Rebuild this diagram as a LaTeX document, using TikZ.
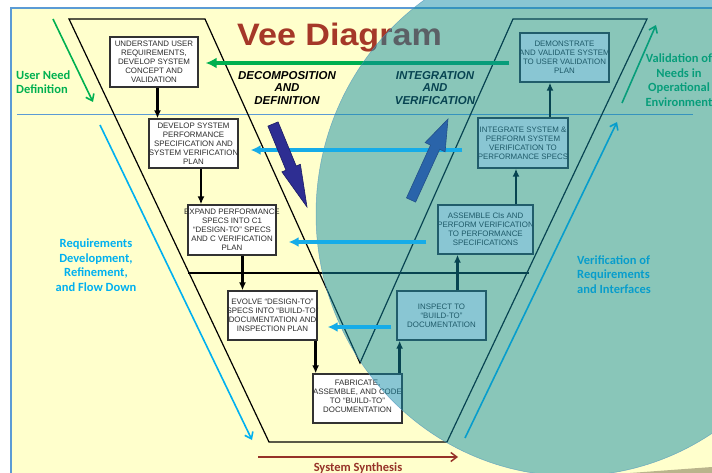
\documentclass[tikz,border=0pt]{standalone}
\usepackage{graphicx}
\usepackage{fontspec}
\setmainfont{Liberation Sans}
\newfontfamily\calfont{Carlito}
\usetikzlibrary{arrows.meta,calc}
\definecolor{bgyellow}{RGB}{255,255,204}
\definecolor{panelblue}{RGB}{91,155,213}
\definecolor{titlered}{RGB}{165,56,40}
\definecolor{needgreen}{RGB}{0,176,80}
\definecolor{reqcyan}{RGB}{0,176,240}
\definecolor{hcyan}{RGB}{22,172,232}
\definecolor{overlaycol}{RGB}{16,139,167}
\definecolor{boxline}{RGB}{50,50,50}
\definecolor{boxtext}{RGB}{45,45,45}
\definecolor{decblue}{RGB}{46,46,146}
\definecolor{decedge}{RGB}{28,28,100}
\definecolor{intblue}{RGB}{42,100,170}
\definecolor{synred}{RGB}{150,50,40}
\definecolor{shadowgray}{RGB}{185,180,140}
\definecolor{ellipseedge}{RGB}{80,150,190}
\tikzset{
  vbox/.style={draw=boxline, line width=1.3pt, fill=white, minimum width=#1, minimum height=49pt, inner sep=0pt},
  vtext/.style={font=\fontsize{7.9}{9}\selectfont, text=boxtext, align=center, inner sep=0pt},
  barrow/.style={line width=2.8pt, -{Latex[length=8pt,width=7pt]}},
  carrow/.style={draw=hcyan, line width=3.2pt, -{Latex[length=10pt,width=10pt]}},
  garrow/.style={draw=needgreen, line width=3.2pt, -{Latex[length=11pt,width=11pt]}},
  diagarrow/.style={line width=1.6pt, -{Straight Barb[length=6pt,width=9pt]}},
  lbl/.style={font=\calfont\bfseries\fontsize{12.5}{14.5}\selectfont, inner sep=0pt},
  phase/.style={font=\bfseries\itshape\fontsize{11.5}{12.5}\selectfont, align=center, inner sep=0pt}
}
\begin{document}
\begin{tikzpicture}[x=1pt,y=-1pt]
\clip (0,0) rectangle (712,473);
\fill[white] (0,0) rectangle (712,473);
\fill[bgyellow] (10,8) rectangle (712,473);
\draw[panelblue, line width=1.2pt] (712,8) -- (11,8) -- (11,473);
\fill[shadowgray] (630,473) -- (712,467) -- (712,473) -- cycle;
% thin level line
\draw[panelblue, line width=0.8pt] (17,114) -- (693,114);
% Vee outline
\draw[line width=1.2pt] (69,19) -- (269,442) -- (447,442) -- (647,19) -- (513,19) -- (360,363) -- (205,19) -- cycle;
\draw[line width=1.5pt] (188,273) -- (529,273);
% title and phase labels
\node[anchor=base west, text=titlered, font=\fontsize{31}{31}\bfseries\selectfont, inner sep=0pt] (title) at (237,46) {\scalebox{1.1}[1]{Vee Diagram}};
\node[phase] (decomp) at (287,88) {DECOMPOSITION\\AND\\DEFINITION};
\node[phase] (integ) at (435,88) {INTEGRATION\\AND\\VERIFICATION};
% side labels and diagonal arrows
\coordinate (ga1) at (53,19); \coordinate (ga2) at (93,102);
\draw[diagarrow, needgreen] (ga1) -- (ga2);
\node[lbl, text=needgreen, align=left, anchor=west] (userneed) at (16,82) {User Need\\Definition};
\coordinate (gb1) at (622,103); \coordinate (gb2) at (656,25);
\draw[diagarrow, needgreen] (gb1) -- (gb2);
\node[lbl, text=needgreen, align=center] (valid) at (679,80) {Validation of\\Needs in\\Operational\\Environment};
\coordinate (ca1) at (100,125); \coordinate (ca2) at (252,440);
\draw[diagarrow, reqcyan] (ca1) -- (ca2);
\node[lbl, text=reqcyan, align=center] (reqdev) at (96,265) {Requirements\\Development,\\Refinement,\\and Flow Down};
\coordinate (cb1) at (465,438); \coordinate (cb2) at (617,122);
\draw[diagarrow, reqcyan] (cb1) -- (cb2);
\node[lbl, text=reqcyan, align=left, anchor=west] (verif) at (577,274.5) {Verification of\\Requirements\\and Interfaces};
% boxes
\node[vbox=88pt, minimum height=50pt] (und) at (154,62) {};
\node[vtext] at (und) {UNDERSTAND USER\\REQUIREMENTS,\\DEVELOP SYSTEM\\CONCEPT AND\\VALIDATION};
\node[vbox=89pt] (dev) at (193.5,143.5) {};
\node[vtext] at (dev) {DEVELOP SYSTEM\\PERFORMANCE\\SPECIFICATION AND\\SYSTEM VERIFICATION\\PLAN};
\node[vbox=88pt, minimum height=50pt] (exp) at (232,230) {};
\node[vtext] at (exp) {EXPAND PERFORMANCE\\SPECS INTO C1\\``DESIGN-TO'' SPECS\\AND C VERIFICATION\\PLAN};
\node[vbox=89pt] (evo) at (272.5,315.5) {};
\node[vtext] at (evo) {EVOLVE ``DESIGN-TO''\\SPECS INTO ``BUILD-TO''\\DOCUMENTATION AND\\INSPECTION PLAN};
\node[vbox=89pt] (fab) at (357.5,398.5) {};
\node[vtext] at ([yshift=2pt]fab.center) {FABRICATE,\\ASSEMBLE, AND CODE\\TO ``BUILD-TO''\\DOCUMENTATION};
\node[vbox=89pt] (ins) at (441.5,315.5) {};
\node[vtext] at (ins) {INSPECT TO\\``BUILD-TO''\\DOCUMENTATION};
\node[vbox=95pt] (asm) at (485.5,229.5) {};
\node[vtext] at (asm) {ASSEMBLE CIs AND\\PERFORM VERIFICATION\\TO PERFORMANCE\\SPECIFICATIONS};
\node[vbox=90pt, minimum height=50pt] (int) at (523,143) {};
\node[vtext] at (int) {INTEGRATE SYSTEM \&\\PERFORM SYSTEM\\VERIFICATION TO\\PERFORMANCE SPECS};
\node[vbox=89pt] (dem) at (564.5,57.5) {};
\node[vtext] at (dem) {DEMONSTRATE\\AND VALIDATE SYSTEM\\TO USER VALIDATION\\PLAN};
% flow arrows between boxes
\draw[barrow] ([xshift=3.5pt]und.south) -- ([xshift=3.5pt]und.south |- dev.north);
\draw[barrow] ([xshift=7.5pt]dev.south) -- ([xshift=7.5pt]dev.south |- exp.north);
\draw[barrow] ([xshift=10.5pt]exp.south) -- ([xshift=10.5pt]exp.south |- evo.north);
\draw[barrow] ([xshift=-2pt]evo.south east) -- ([xshift=-2pt]evo.south east |- fab.north);
\draw[barrow] ([xshift=-3pt]fab.north east) -- ([xshift=-3pt]fab.north east |- ins.south);
\draw[barrow] ([xshift=16pt]ins.north) -- ([xshift=16pt]ins.north |- asm.south);
\draw[barrow] ([xshift=30.5pt]asm.north) -- ([xshift=30.5pt]asm.north |- int.south);
\draw[barrow] ([xshift=27pt]int.north) -- ([xshift=27pt]int.north |- dem.south);
% validation arrow (green)
\draw[garrow, shorten <=10pt, shorten >=7pt] (dem.west |- 0,63) -- (und.east |- 0,63);
% translucent overlay
\fill[overlaycol, fill opacity=0.49] (572,214) ellipse [x radius=256pt, y radius=262pt];
\draw[ellipseedge, line width=0.5pt, draw opacity=0.7] (572,214) ellipse [x radius=256pt, y radius=262pt];
% verification-to-definition arrows
\draw[carrow, shorten <=15pt, shorten >=12pt] (int.west |- 0,150) -- (dev.east |- 0,150);
\draw[carrow, shorten <=11pt, shorten >=12pt] (asm.west |- 0,242) -- (exp.east |- 0,242);
\draw[carrow, shorten <=5pt, shorten >=10pt] (ins.west |- 0,327) -- (evo.east |- 0,327);
% big block arrows
\filldraw[fill=decblue, draw=decedge, line width=0.6pt] (278.1,121.9) -- (296.2,166.0) -- (300.4,164.3) -- (307,207) -- (281.9,171.9) -- (286.0,170.2) -- (267.9,126.1) -- cycle;
\filldraw[fill=intblue, draw=intblue!80!black, line width=0.6pt] (415.6,202.1) -- (439.7,149.3) -- (445.1,151.8) -- (448,119) -- (425.1,142.6) -- (430.5,145.1) -- (406.5,197.9) -- cycle;
% system synthesis
\coordinate (ss1) at (258,457); \coordinate (ss2) at (458,457);
\draw[synred, line width=1.5pt, -{Straight Barb[length=6pt,width=9pt]}] (ss1) -- (ss2);
\node[lbl, text=synred, anchor=base] (synth) at (358,471) {System Synthesis};
\end{tikzpicture}
\end{document}
